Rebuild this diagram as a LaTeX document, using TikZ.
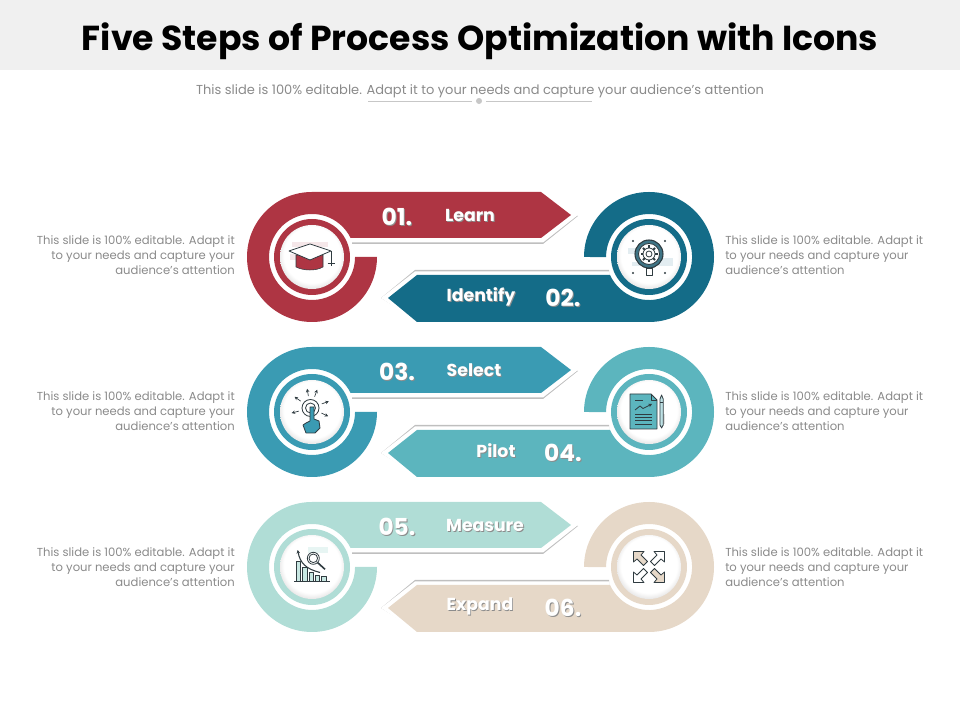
\documentclass[tikz,border=0pt]{standalone}
\usepackage{fontspec}
\usetikzlibrary{arrows.meta}
\setmainfont{Poppins}
\definecolor{stepred}{HTML}{AE3543}
\definecolor{stepnavy}{HTML}{146C88}
\definecolor{stepblue}{HTML}{3A9BB3}
\definecolor{stepteal}{HTML}{5CB5BE}
\definecolor{stepmint}{HTML}{B0DDD6}
\definecolor{stepsand}{HTML}{E6D8C8}
\definecolor{iconline}{HTML}{2F3B40}
\definecolor{bodygray}{HTML}{8A8A8A}
\definecolor{discedge}{HTML}{C4C2C2}
\pgfdeclareradialshading{discglow}{\pgfpoint{0bp}{3bp}}{color(0bp)=(white); color(22bp)=(white); color(33bp)=(discedge); color(50bp)=(discedge)}
\newcommand{\shadowed}[1]{\rlap{\raisebox{-.7pt}{\kern.7pt\textcolor{black!45}{#1}}}#1}
\tikzset{
  notetext/.style={text=bodygray,font=\fontsize{8.7}{11.25}\selectfont,inner sep=0pt},
  numtext/.style={text=white,font=\fontsize{17.5}{20}\selectfont\bfseries,inner sep=0pt},
  steptext/.style={text=white,font=\fontsize{13}{15}\selectfont\bfseries,inner sep=0pt},
  iconpen/.style={draw=iconline,line width=.6pt,line join=round},
  tinyarrow/.style={-{Stealth[length=2.6pt,width=2.6pt]}},
}
\begin{document}
\begin{tikzpicture}[x=.75pt,y=.75pt]
\useasboundingbox (0,0) rectangle (960,720);
\fill[black!6] (0,650) rectangle (960,720);
\node[font=\fontsize{26}{31}\selectfont\bfseries,text=black,inner sep=0pt] (title) at (480,679) {Five Steps of Process Optimization with Icons};
\node[text=bodygray,font=\fontsize{9.75}{12}\selectfont,inner sep=0pt] (subtitle) at (480,629) {This slide is 100\% editable. Adapt it to your needs and capture your audience's attention};

\node[circle,fill=black!22,inner sep=1.6pt] (dot) at (479,619) {};
\coordinate (ruleL) at (368,619);
\coordinate (ruleR) at (592,619);
\draw[black!22,line width=.5pt] (ruleL) -- ([xshift=-3pt]dot.west);
\draw[black!22,line width=.5pt] ([xshift=3pt]dot.east) -- (ruleR);

% bands
\foreach \i/\yy/\cl/\cr in {1/463/stepred/stepnavy,2/308/stepblue/stepteal,3/153/stepmint/stepsand}{
  \begin{scope}[shift={(312,\yy)}]
    \fill[black!25] (40,13) -- (231,13) -- (266,41) -- (231,62) -- (40,62) -- cycle;
    \fill[white] (40,14.5) -- (231,14.5) -- (266,42) -- (231,65) -- (40,65) -- cycle;
    \fill[\cl] (0,65) -- (229,65) -- (259,42) -- (229,19) -- (38.6,19) arc[start angle=26.2,end angle=360,radius=43] -- (65,0) arc[start angle=0,end angle=-270,radius=65] -- cycle;
    \fill[\cl] (0,0) circle[radius=38];
    \shade[shading=discglow] (0,0) circle[radius=32];
  \end{scope}
  \begin{scope}[shift={(649,\yy)}]
    \fill[black!25] (-40,-13) -- (-234,-13) -- (-268,-41) -- (-234,-62) -- (-40,-62) -- cycle;
    \fill[white] (-40,-14.5) -- (-234,-14.5) -- (-268,-41) -- (-232,-65) -- (-40,-65) -- cycle;
    \fill[\cr] (0,-65) -- (-232,-65) -- (-261,-41) -- (-232,-18) -- (-39,-18) arc[start angle=204.7,end angle=540,radius=43] -- (-65,0) arc[start angle=180,end angle=-90,radius=65] -- cycle;
    \fill[\cr] (0,0) circle[radius=38];
    \shade[shading=discglow] (0,0) circle[radius=32];
  \end{scope}
}

% labels
\node[numtext] (num1) at (397,502.5) {\shadowed{01.}};
\node[steptext] (step1) at (470,504) {\shadowed{Learn}};
\node[steptext] (step2) at (481,423) {\shadowed{Identify}};
\node[numtext] (num2) at (563,421.5) {\shadowed{02.}};
\node[numtext] (num3) at (397,347.5) {\shadowed{03.}};
\node[steptext] (step3) at (474,349) {\shadowed{Select}};
\node[steptext] (step4) at (496,268.5) {\shadowed{Pilot}};
\node[numtext] (num4) at (563,266.5) {\shadowed{04.}};
\node[numtext] (num5) at (397,192.5) {\shadowed{05.}};
\node[steptext] (step5) at (485,194) {\shadowed{Measure}};
\node[steptext] (step6) at (480,113) {\shadowed{Expand}};
\node[numtext] (num6) at (563,111.5) {\shadowed{06.}};

% side notes
\foreach \i/\yy in {1/465,3/309,5/153}{
  \node[notetext,anchor=east,align=right] (note\i) at (235,\yy) {This slide is 100\% editable. Adapt it\\to your needs and capture your\\audience's attention};
}
\foreach \i/\yy in {2/465,4/309,6/153}{
  \node[notetext,anchor=west,align=left] (note\i) at (725,\yy) {This slide is 100\% editable. Adapt it\\to your needs and capture your\\audience's attention};
}

% cap icon
\begin{scope}[shift={(312,463)}]
  \fill[stepred!12] (-20,10) rectangle (16,15);
  \fill[stepred!12] (-22,-3) rectangle (-14,3);
  \fill[stepred,draw=iconline,line width=.4pt] (-16,2) -- (-16,-10) .. controls (-8,-14) and (4,-14) .. (11,-10) -- (11,2) -- cycle;
  \filldraw[iconpen,fill=white] (-23,6) -- (-2,13) -- (19,6) -- (-2,-3) -- cycle;
  \draw[iconpen] (19,6) -- (19,-4);
  \draw[iconpen,line width=.5pt] (15.5,-6) -- (22.5,-6) (19,-4) -- (19,-9);
\end{scope}

% gear bulb icon
\begin{scope}[shift={(649,463)}]
  \fill[stepnavy!12] (-21,3) rectangle (-9,9);
  \fill[stepnavy!12] (12,-6) rectangle (24,-1);
  \fill[stepnavy!12] (-17,-9) rectangle (24,-5);
  \filldraw[iconpen,fill=stepnavy!60!gray,line width=.8pt] (0,3) circle[radius=14];
  \filldraw[iconpen,fill=white] (0,3) circle[radius=10.5];
  \foreach \a in {0,45,...,315}
    \draw[iconpen,line width=1.4pt] (0,3) ++(\a:5.5) -- ++(\a:3);
  \filldraw[iconpen,fill=white] (0,3) circle[radius=6];
  \filldraw[iconpen,fill=white] (0,3) circle[radius=3];
  \filldraw[iconpen,fill=white] (-3,-11) rectangle (3,-18);
  \foreach \sx/\sy in {-16/16,16/16,-16/-16,16/-16}
    \fill[iconline] (\sx,\sy) circle[radius=1.1];
\end{scope}

% touch icon
\begin{scope}[shift={(312,308)}]
  \draw[iconpen] (-1.5,4) circle[radius=8.5];
  \draw[iconpen] (-1.5,4) circle[radius=5];
  \foreach \a in {195,145,100,70,20,-25}
    \draw[iconpen,line width=.5pt,tinyarrow] (-1.5,4) ++(\a:12) -- ++(\a:7.5);
  \filldraw[iconpen,fill=stepblue] (-2,5) -- (2,5) -- (2,-7) -- (7,-9) -- (8,-16) -- (3,-21) -- (-6,-21) -- (-9,-13) -- (-6,-11) -- (-2,-9) -- cycle;
\end{scope}

% document icon
\begin{scope}[shift={(649,308)}]
  \filldraw[iconpen,fill=stepteal] (-19,18) -- (2,18) -- (8,12) -- (8,-17) -- (-19,-17) -- cycle;
  \draw[iconpen] (2,18) -- (2,12) -- (8,12);
  \draw[iconpen] (-14,12) -- (-6,12);
  \draw[iconpen,tinyarrow] (-14,2) -- (-9,6) -- (-6,3.5) -- (3,8);
  \foreach \yy in {-2,-5,-8,-12}
    \draw[iconpen] (-14,\yy) -- (3,\yy);
  \fill[black!12] (14,-2) rectangle (16,-12);
  \filldraw[iconpen,fill=stepteal!40] (11,13) -- (12.6,17) -- (14.2,13) -- (14.2,-13) -- (12.6,-16) -- (11,-13) -- cycle;
  \draw[iconpen] (11,10) -- (14.2,10);
\end{scope}

% chart icon
\begin{scope}[shift={(312,153)}]
  \fill[stepmint!30] (-4,14) rectangle (16,20);
  \draw[iconpen] (-18,-14.5) -- (17.5,-14.5);
  \filldraw[iconpen,fill=stepmint!70] (-16,-14.5) rectangle (-11.3,5.5);
  \filldraw[iconpen,fill=stepmint!70] (-9.7,-14.5) rectangle (-4.7,-0.5);
  \filldraw[iconpen,fill=stepmint!70] (-3,-14.5) rectangle (1.3,-5.7);
  \filldraw[iconpen,fill=stepmint!70] (3,-14.5) rectangle (7.3,-8);
  \filldraw[iconpen,fill=stepmint!70] (9,-14.5) rectangle (14,-9.7);
  \draw[iconpen] (1.3,8.7) circle[radius=6];
  \draw[iconpen] (1.3,8.7) circle[radius=4.3];
  \draw[iconpen,line width=1.2pt] (5.7,4.3) -- (13,-2.3);
  \draw[iconpen,line width=.8pt,tinyarrow] (8,-5.5) .. controls (-6,-2) and (-12,4) .. (-14.3,17);
\end{scope}

% expand icon
\begin{scope}[shift={(649,153)}]
  \foreach \sx/\sy/\cf in {1/1/white,-1/-1/white,-1/1/stepsand,1/-1/stepsand}
    \filldraw[iconpen,fill=\cf,xscale=\sx,yscale=\sy] (15.5,15.5) -- (5,15.5) -- (8,12) -- (1.5,5.5) -- (5.5,1.5) -- (12,8) -- (15.5,5) -- cycle;
\end{scope}
\end{tikzpicture}
\end{document}
